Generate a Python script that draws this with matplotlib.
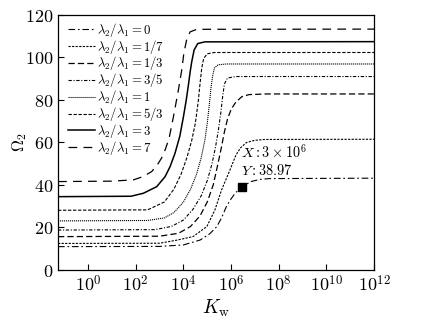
import matplotlib
matplotlib.use("Agg")
import matplotlib.pyplot as plt
import numpy as np

plt.rcParams['mathtext.fontset'] = 'cm'
plt.rcParams['font.family'] = ['DejaVu Serif']

labels = ["0", "1/7", "1/3", "3/5", "1", "5/3", "3", "7"]

# log10(Kw) and Omega_2, one pair of lists per curve
x_r0 = [-1.26, 3.0, 4.0, 4.7, 5.1, 5.4, 5.6, 5.8, 6.0, 6.2, 6.48, 6.8, 7.2, 7.6, 12]
y_r0 = [11.0, 11.1, 11.8, 14.1, 17.0, 20.4, 24.5, 29.8, 33.5, 36.5, 38.97, 41.5, 42.6, 43.0, 43.2]

x_r17 = [-1.26, 3.0, 3.7, 4.4, 4.98, 5.32, 5.6, 5.95, 6.2, 6.4, 6.65, 7.0, 7.4, 12]
y_r17 = [12.5, 12.6, 14.0, 15.7, 20.4, 28.2, 37.6, 47.0, 54.0, 57.5, 60.0, 61.0, 61.4, 61.5]

x_r13 = [-1.26, 3.0, 3.8, 4.3, 4.7, 5.0, 5.25, 5.45, 5.6, 5.72, 5.85, 6.0, 6.2, 6.45, 6.75, 7.5, 12]
y_r13 = [15.7, 15.9, 17.3, 20.5, 25.5, 32.0, 40.0, 50.0, 58.0, 65.0, 71.0, 75.5, 79.0, 81.5, 82.5, 82.8, 82.8]

x_r35 = [-1.26, 2.8, 3.5, 4.0, 4.4, 4.75, 5.0, 5.2, 5.35, 5.47, 5.57, 5.65, 5.72, 5.85, 6.2, 12]
y_r35 = [18.8, 19.0, 20.5, 23.5, 28.5, 35.0, 42.0, 50.0, 58.0, 66.0, 74.0, 82.0, 87.5, 90.3, 91.0, 91.0]

x_r1 = [-1.26, 2.5, 3.2, 3.6, 4.0, 4.3, 4.55, 4.75, 4.9, 5.0, 5.08, 5.15, 5.22, 5.3, 5.45, 5.8, 12]
y_r1 = [23.1, 23.3, 24.5, 27.0, 32.0, 38.0, 45.0, 53.0, 61.0, 69.0, 77.0, 85.0, 91.0, 95.0, 96.5, 96.9, 96.9]

x_r53 = [-1.26, 2.5, 3.2, 3.6, 3.9, 4.15, 4.35, 4.5, 4.62, 4.7, 4.77, 4.85, 5.0, 5.3, 12]
y_r53 = [28.1, 28.3, 32.0, 38.0, 45.0, 53.0, 61.0, 69.0, 79.0, 88.0, 95.0, 99.5, 101.7, 102.3, 102.3]

x_r3 = [-1.26, 1.8, 2.32, 2.88, 3.23, 3.44, 3.65, 3.85, 4.0, 4.12, 4.21, 4.28, 4.35, 4.45, 4.6, 4.9, 12]
y_r3 = [34.5, 34.7, 36.1, 39.2, 43.9, 48.6, 55.0, 63.0, 72.0, 80.0, 87.0, 93.0, 98.0, 103.5, 106.5, 107.3, 107.4]

x_r7 = [-1.26, 1.0, 1.9, 2.3, 2.67, 2.95, 3.1, 3.25, 3.4, 3.58, 3.79, 3.93, 4.02, 4.13, 4.28, 4.56, 12]
y_r7 = [41.6, 41.8, 42.4, 43.9, 46.3, 50.2, 53.0, 57.0, 62.0, 72.0, 84.7, 94.0, 102.0, 108.0, 112.0, 113.2, 113.3]

mark_x = 3e6
mark_y = 38.97

series = [(x_r0, y_r0), (x_r17, y_r17), (x_r13, y_r13), (x_r35, y_r35),
          (x_r1, y_r1), (x_r53, y_r53), (x_r3, y_r3), (x_r7, y_r7)]
styles = [(0, (6, 2.5, 1.5, 2.5)), (0, (2, 1.2)), (0, (5, 2.5)), (0, (3, 1.5, 1, 1.5)),
          (0, (1, 0.8)), (0, (3, 1.5)), '-', (0, (7, 5))]
widths = [0.8, 0.8, 0.9, 0.8, 0.8, 0.8, 1.1, 0.9]

fig = plt.figure(figsize=(4.33, 3.23), dpi=100)
ax = fig.add_axes([0.134, 0.164, 0.730, 0.790])

for (xs, ys), lab, ls, lw in zip(series, labels, styles, widths):
    ax.plot(10.0 ** np.array(xs), ys, color='black', linestyle=ls, linewidth=lw,
            label=r'$\lambda_2/\lambda_1{=}' + lab + '$')

ax.plot([mark_x], [mark_y], marker='s', color='black', markersize=5.5, linestyle='none')
ax.text(2.6e6, 55.5, r'$X{:}3\times10^6$', fontsize=10.3, ha='left', va='center')
ax.text(2.6e6, 47.0, r'$Y{:}38.97$', fontsize=10.3, ha='left', va='center')

ax.set_xscale('log')
ax.set_xlim(10 ** -1.26, 1e12)
ax.set_ylim(0, 120)
xt = [1e0, 1e2, 1e4, 1e6, 1e8, 1e10, 1e12]
ax.set_xticks(xt)
ax.set_xticklabels([r'$10^{%d}$' % int(round(np.log10(v))) for v in xt])
ax.xaxis.set_minor_locator(matplotlib.ticker.NullLocator())
yt = [0, 20, 40, 60, 80, 100, 120]
ax.set_yticks(yt)
ax.set_yticklabels([r'$%d$' % v for v in yt])
ax.tick_params(direction='in', length=4, width=0.8, labelsize=13, top=False, right=False)
for s in ax.spines.values():
    s.set_linewidth(0.9)

ax.set_xlabel(r'$K_{\rm w}$', fontsize=14, labelpad=2)
ax.set_ylabel(r'$\Omega_2$', fontsize=12, labelpad=-3)

leg = ax.legend(loc='upper left', bbox_to_anchor=(0.0234, 0.987), frameon=False,
                fontsize=9.2, handlelength=2.1, handletextpad=0.15, labelspacing=-0.09,
                borderaxespad=0.0, borderpad=0.2)

fig.savefig('out.png', dpi=100)
